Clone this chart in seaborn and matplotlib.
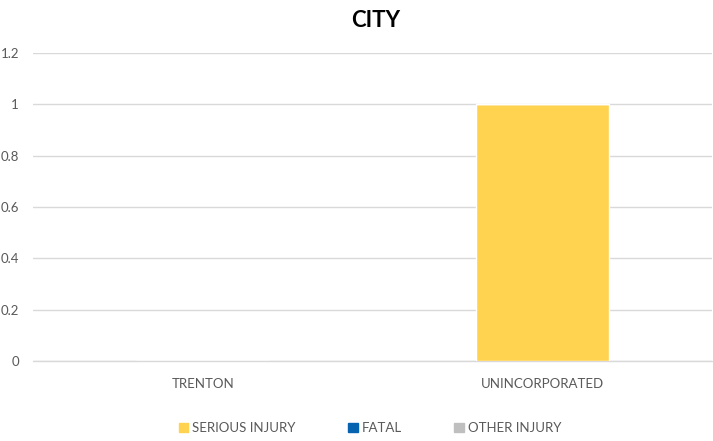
import numpy as np
import pandas as pd
import matplotlib
matplotlib.use("Agg")
import matplotlib.pyplot as plt
import seaborn as sns
from matplotlib.patches import Patch

cities = ["TRENTON", "UNINCORPORATED"]
serious_injury = [0, 1]
fatal = [0, 0]
other_injury = [0, 0]

series_names = ["SERIOUS INJURY", "FATAL", "OTHER INJURY"]
series_colors = ["#FFD34F", "#0563B0", "#BFBFBF"]
yticks = [0, 0.2, 0.4, 0.6, 0.8, 1, 1.2]
ytick_labels = ["0", "0.2", "0.4", "0.6", "0.8", "1", "1.2"]

sns.set_style("white")
plt.rcParams["font.family"] = ["Lato", "DejaVu Sans"]

fig = plt.figure(figsize=(7.13, 4.41), dpi=100)
ax = fig.add_axes([0.046, 0.181, 0.953, 0.699])

df = pd.DataFrame({"city": cities, "SERIOUS INJURY": serious_injury,
                   "FATAL": fatal, "OTHER INJURY": other_injury})

bottom = np.zeros(len(cities))
for name, col in zip(series_names, series_colors):
    sns.barplot(data=df, x="city", y=name, color=col, width=0.39,
                bottom=bottom, ax=ax, saturation=1, zorder=3)
    bottom = bottom + df[name].values

ax.set_ylim(0, 1.2)
ax.set_yticks(yticks)
ax.set_yticklabels(ytick_labels)
ax.grid(axis="y", color="#D9D9D9", linewidth=1, zorder=0)
ax.axhline(0, color="#D9D9D9", linewidth=1, zorder=1, clip_on=False)
ax.set_axisbelow(True)
for s in ax.spines.values():
    s.set_visible(False)
ax.tick_params(axis="y", length=0, labelsize=9.5, colors="#595959", pad=10)
ax.tick_params(axis="x", length=0, labelsize=9.5, colors="#595959", pad=12)
ax.set_xlabel("")
ax.set_ylabel("")

fig.suptitle("CITY", x=0.527, y=0.978, fontsize=16, fontweight="bold", color="black")

handles = [Patch(facecolor=c, edgecolor=c) for c in series_colors]
fig.legend(handles, series_names, loc="center", bbox_to_anchor=(0.519, 0.03),
           ncol=3, frameon=False, fontsize=9.5, labelcolor="#595959",
           handlelength=0.7, handleheight=0.7, handletextpad=0.3, columnspacing=4.0)

fig.savefig("out.png", dpi=100)
